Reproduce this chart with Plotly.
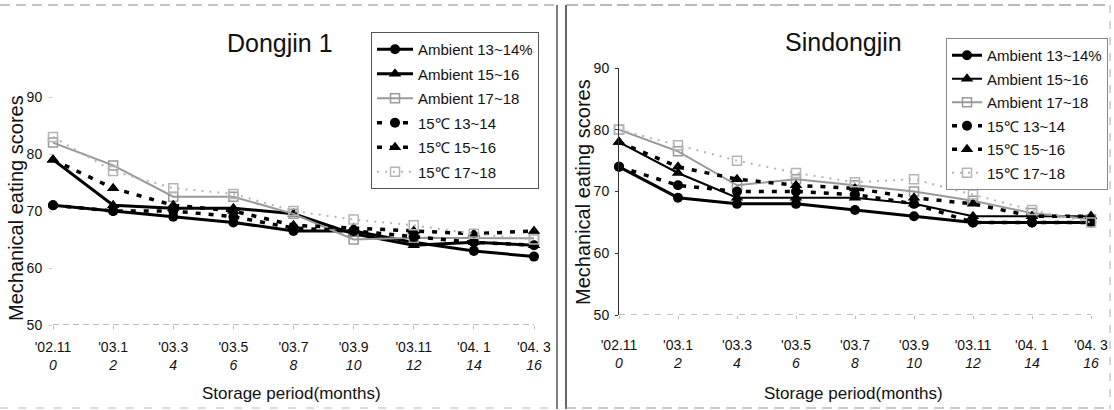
import plotly.graph_objects as go

months = [0, 2, 4, 6, 8, 10, 12, 14, 16]
dates = ["'02.11", "'03.1", "'03.3", "'03.5", "'03.7", "'03.9", "'03.11", "'04. 1", "'04. 3"]
yticks = [50, 60, 70, 80, 90]

series_names = ["Ambient 13~14%", "Ambient 15~16", "Ambient 17~18",
                "15℃ 13~14", "15℃ 15~16", "15℃ 17~18"]

# Dongjin 1
dj_amb_13_14 = [71, 70, 69, 68, 66.5, 66.5, 64.5, 63, 62]
dj_amb_15_16 = [79, 71, 70.5, 70.5, 69.5, 66, 64, 64.5, 64]
dj_amb_17_18 = [82, 78, 72.5, 72.5, 69.5, 65, 65.3, 65.3, 65.2]
dj_15c_13_14 = [71, 70, 70, 69, 67, 66.5, 65.5, 64.5, 64]
dj_15c_15_16 = [79, 74, 71, 70, 67.5, 67, 66.5, 66, 66.5]
dj_15c_17_18 = [83, 77, 74, 73, 70, 68.5, 67.5, 66, 65]

# Sindongjin
sd_amb_13_14 = [74, 69, 68, 68, 67, 66, 65, 65, 65]
sd_amb_15_16 = [78, 73, 69, 69, 69, 68, 66, 66, 66]
sd_amb_17_18 = [80, 76.5, 71, 72, 71, 70, 68.5, 66.5, 65.5]
sd_15c_13_14 = [74, 71, 70, 70, 69.5, 68, 65, 65, 65]
sd_15c_15_16 = [78, 74, 72, 71, 70.5, 69, 68, 66, 66]
sd_15c_17_18 = [80, 77.5, 75, 73, 71.5, 72, 69.5, 67, 65]

W, H = 1114, 410
FONT = "Liberation Sans, Arial, sans-serif"

def px_x(p):
    return p / W

def px_y(p):
    return 1 - p / H

styles = [
    dict(line=dict(color="#000", width=3), marker=dict(symbol="circle", size=10, color="#000")),
    dict(line=dict(color="#000", width=3), marker=dict(symbol="triangle-up", size=11, color="#000")),
    dict(line=dict(color="#999", width=2), marker=dict(symbol="square-open", size=9, color="#999", line=dict(width=1.5, color="#999"))),
    dict(line=dict(color="#000", width=3.5, dash="5px,8px"), marker=dict(symbol="circle", size=10, color="#000")),
    dict(line=dict(color="#000", width=3.5, dash="5px,8px"), marker=dict(symbol="triangle-up", size=11, color="#000")),
    dict(line=dict(color="#b5b5b5", width=2, dash="2px,6px"), marker=dict(symbol="square-open", size=9, color="#b5b5b5", line=dict(width=1.5, color="#b5b5b5"))),
]

fig = go.Figure()

left_sets = [dj_amb_13_14, dj_amb_15_16, dj_amb_17_18, dj_15c_13_14, dj_15c_15_16, dj_15c_17_18]
right_sets = [sd_amb_13_14, sd_amb_15_16, sd_amb_17_18, sd_15c_13_14, sd_15c_15_16, sd_15c_17_18]

for i, (name, vals, st) in enumerate(zip(series_names, left_sets, styles)):
    fig.add_trace(go.Scatter(x=months, y=vals, name=name, mode="lines+markers",
                             line=st["line"], marker=st["marker"], cliponaxis=False,
                             legendgroup=f"L{i}",
                             xaxis="x", yaxis="y", legend="legend"))

for i, (name, vals, st) in enumerate(zip(series_names, right_sets, styles)):
    line = dict(st["line"])
    if i == 1:
        line = dict(color="#000", width=2)
    fig.add_trace(go.Scatter(x=months, y=vals, name=name, mode="lines+markers",
                             line=line, marker=st["marker"], cliponaxis=False,
                             legendgroup=f"R{i}",
                             xaxis="x2", yaxis="y2", legend="legend2"))

ticktext = [f"{d}<br><i>{m}</i>" for d, m in zip(dates, months)]

xcommon = dict(range=[0, 16], tickvals=months, ticktext=ticktext, showgrid=False,
               zeroline=False, showline=False, ticks="outside", ticklen=3, tickcolor="#bbb",
               automargin=False,
               tickfont=dict(family=FONT, size=14, color="#111"))
ycommon = dict(range=[50, 90], tickvals=yticks, showgrid=False, zeroline=False,
               ticks="outside", ticklen=3, automargin=False,
               tickfont=dict(family=FONT, size=14, color="#111"))

fig.update_layout(
    width=W, height=H,
    margin=dict(l=0, r=0, t=0, b=0, autoexpand=False),
    paper_bgcolor="white", plot_bgcolor="white",
    xaxis=dict(domain=[px_x(53), px_x(534)], anchor="y", ticklabelstandoff=6, **xcommon),
    yaxis=dict(domain=[1 - 325 / H, 1 - 97 / H], anchor="x", showline=False,
               tickcolor="#ccc", ticklabelstandoff=4, **ycommon),
    xaxis2=dict(domain=[px_x(619), px_x(1091)], anchor="y2", ticklabelstandoff=14, **xcommon),
    yaxis2=dict(domain=[1 - 315 / H, 1 - 68 / H], anchor="x2", showline=True,
                linecolor="#333", linewidth=1, tickcolor="#333", ticklabelstandoff=3, **ycommon),
    legend=dict(x=px_x(371), y=px_y(32), xanchor="left", yanchor="top",
                bgcolor="white", bordercolor="#555", borderwidth=1, itemwidth=36,
                font=dict(family=FONT, size=15, color="#111"), tracegroupgap=2),
    legend2=dict(x=px_x(946), y=px_y(38), xanchor="left", yanchor="top",
                 bgcolor="white", bordercolor="#888", borderwidth=1, itemwidth=30,
                 font=dict(family=FONT, size=15, color="#111"), tracegroupgap=1),
    showlegend=True,
)

def ann(text, x, y, size, angle=0):
    return dict(text=text, x=px_x(x), y=px_y(y), xref="paper", yref="paper",
                xanchor="center", yanchor="middle", textangle=angle, showarrow=False,
                font=dict(family=FONT, size=size, color="#111"))

annotations = [
    ann("Dongjin 1", 280, 43, 25),
    ann("Sindongjin", 843, 42, 25),
    ann("Mechanical eating scores", 16, 208, 20, -90),
    ann("Mechanical eating scores", 583, 192, 20, -90),
    ann("Storage period(months)", 291, 393, 17),
    ann("Storage period(months)", 853, 393, 17),
]
fig.update_layout(annotations=annotations)

shapes = [
    dict(type="line", xref="x", yref="y", x0=0, x1=16, y0=50, y1=50,
         line=dict(color="#777", width=1, dash="6px,4px")),
    dict(type="line", xref="x2", yref="y2", x0=0, x1=16, y0=50, y1=50,
         line=dict(color="#888", width=1, dash="6px,6px")),
    dict(type="line", xref="paper", yref="paper", x0=0, x1=px_x(557), y0=px_y(5), y1=px_y(5),
         line=dict(color="#888", width=1, dash="10px,6px")),
    dict(type="line", xref="paper", yref="paper", x0=px_x(557), x1=px_x(557), y0=px_y(5), y1=px_y(409),
         line=dict(color="#555", width=1.5)),
    dict(type="line", xref="paper", yref="paper", x0=0, x1=px_x(557), y0=px_y(408), y1=px_y(408),
         line=dict(color="#bbb", width=1, dash="8px,10px")),
    dict(type="line", xref="paper", yref="paper", x0=px_x(566), x1=px_x(566), y0=px_y(5), y1=px_y(409),
         line=dict(color="#333", width=1.5)),
    dict(type="line", xref="paper", yref="paper", x0=px_x(566), x1=px_x(1110), y0=px_y(5), y1=px_y(5),
         line=dict(color="#777", width=1, dash="12px,5px")),
    dict(type="line", xref="paper", yref="paper", x0=px_x(1110), x1=px_x(1110), y0=px_y(5), y1=px_y(409),
         line=dict(color="#aaa", width=1, dash="8px,8px")),
    dict(type="line", xref="paper", yref="paper", x0=px_x(566), x1=px_x(1110), y0=px_y(408), y1=px_y(408),
         line=dict(color="#999", width=1, dash="10px,6px")),
]
fig.update_layout(shapes=shapes)

fig.write_html("out.html", config={"displayModeBar": False},
               post_script="document.body.style.margin='0';document.body.style.overflow='hidden';")
